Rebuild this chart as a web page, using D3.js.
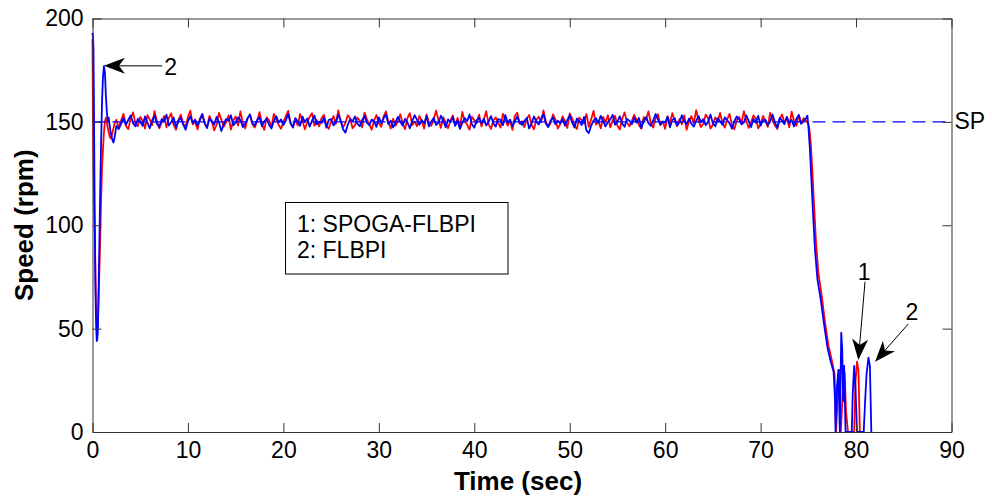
<!DOCTYPE html>
<html>
<head>
<meta charset="utf-8">
<script src="https://cdn.jsdelivr.net/npm/d3@7"></script>
<style>
  html, body { margin: 0; padding: 0; background: #fff; }
  svg { display: block; }
  text { font-family: "Liberation Sans", Arial, sans-serif; }
</style>
</head>
<body>
<svg id="chart" width="992" height="497"></svg>
<script>
// ---------------- DATA ----------------
const xTicks = [0, 10, 20, 30, 40, 50, 60, 70, 80, 90];
const yTicks = [0, 50, 100, 150, 200];
const setPoint = 150;
const legendLines = ["1: SPOGA-FLBPI", "2: FLBPI"];

// start-up transient (time in sec)
const startTime = [0, 0.05, 0.1, 0.15, 0.2, 0.25, 0.3, 0.35, 0.4, 0.45, 0.5, 0.55, 0.6, 0.7, 0.8, 0.9, 1.0, 1.1, 1.2, 1.3, 1.4, 1.5, 1.6, 1.7, 1.8, 1.9, 2.0, 2.1, 2.2, 2.3, 2.4, 2.5];
const redStart  = [190, 150, 128, 115, 104, 95, 80, 65, 55, 50, 49, 52, 58, 75, 92, 112, 128, 137, 145, 150, 152, 150, 147, 145, 143, 142, 143, 145, 147, 149, 150, 151];
const blueStart = [193, 191, 186, 160, 125, 95, 72, 58, 49, 44, 45, 48, 58, 85, 115, 140, 160, 172, 177, 174, 163, 155, 150, 152, 148, 145, 143, 141, 140, 142, 145, 148];

// steady state samples, one every 0.25 s from 2.75 s to 74.75 s
const steadyStart = 2.75, steadyStep = 0.25;
const redSteady = [
147.2,150.8,153.9,148.1,146.5,151.7,154.6,149.3,147.9,152.4,150.6,146.8,153.2,151.1,148.4,155.2,150.3,
146.9,149.7,152.8,147.4,151.9,154.1,148.6,146.2,150.9,153.5,149.1,147.7,152.3,155.4,148.8,150.2,146.4,
151.6,153.7,149.5,147.1,152.9,150.4,145.9,148.7,154.3,151.2,147.6,149.9,153.1,146.3,150.7,152.6,148.2,
155.1,149.4,146.8,151.8,153.6,148.9,147.3,150.5,154.7,149.2,146.1,152.2,150.8,147.5,153.9,151.3,148.6,
146.7,150.1,152.7,155.3,149.6,147.2,151.4,148.3,153.8,150.6,146.4,149.8,152.5,154.2,148.1,150.9,147.8,
151.9,153.4,148.7,146.6,150.3,152.8,149.1,155.6,150.2,147.4,149.5,153.2,151.7,146.9,148.4,152.1,150.6,
147.3,154.5,151.2,148.8,146.2,150.7,153.3,149.4,147.6,152.6,155.1,149.9,146.8,151.5,148.2,150.4,153.7,
149.2,146.5,151.8,154.2,148.5,150.1,147.9,152.9,150.3,146.7,153.6,149.7,148.1,151.4,155.4,150.8,147.1,
152.3,149.6,146.9,150.5,153.1,148.4,151.9,147.4,154.8,150.2,148.7,146.3,152.4,150.9,149.3,153.5,147.8,
151.1,155.2,148.9,146.6,150.7,152.2,149.5,147.2,153.9,151.4,148.2,150.6,146.1,152.8,154.4,149.1,150.3,
147.5,151.6,153.3,148.6,146.4,150.9,152.5,149.8,155.5,150.1,147.7,149.3,153.6,151.2,146.8,148.9,152.7,
150.4,147.1,154.1,151.7,148.3,146.5,152.1,150.8,149.2,153.8,147.6,151.3,155.3,148.7,150.2,146.9,152.4,
149.7,153.2,147.4,150.6,152.9,148.1,146.3,151.5,154.6,149.9,147.8,150.4,153.4,151.1,148.5,146.7,152.3,
150.9,155.1,149.2,147.3,151.8,153.7,148.4,150.2,146.6,152.6,149.6,154.2,150.7,147.9,151.4,148.8,153.1,
146.2,150.3,152.8,149.4,155.7,150.6,147.5,149.1,153.5,151.9,146.8,148.6,152.2,150.1,154.3,149.7,147.2,
151.3,153.9,148.2,146.4,150.8,152.4,149.3,155.2,150.5,147.1,149.8,153.1,151.6,146.9,148.7,152.9,150.2,
147.6,154.4,150.9,148.3,146.6,151.2,153.6,149.5,152.1,147.3,155.0,150.4,148.1,153.3,149.2,151.8,150.6
];
const blueSteady = [
146.5,149.2,151.8,148.6,150.9,153.1,149.4,147.8,151.5,150.2,148.1,152.6,149.7,146.9,150.8,152.9,149.1,
147.6,151.3,150.4,153.5,148.2,149.9,152.1,147.3,150.6,151.9,148.8,146.2,150.3,152.7,149.5,151.1,148.4,
150.7,153.8,149.3,147.1,151.6,150.1,148.7,152.4,149.8,145.6,148.9,151.4,150.5,153.2,148.3,149.6,152.2,
150.9,147.5,149.1,151.7,153.6,149.4,148.2,150.8,152.3,147.9,150.2,151.5,148.6,146.8,150.4,152.8,149.7,
151.2,148.5,150.6,153.9,149.2,147.4,151.8,150.3,148.1,152.5,149.9,151.6,147.7,150.5,153.1,148.8,150.1,
149.5,152.1,147.2,150.9,151.4,148.3,149.8,153.4,150.7,146.4,144.8,148.6,151.3,150.2,152.6,149.1,147.9,
150.8,152.9,149.6,148.4,151.1,150.3,147.6,152.2,149.4,151.7,153.5,148.9,150.6,147.3,149.9,152.4,150.1,
148.2,151.5,149.7,146.9,150.4,153.2,151.1,148.6,150.9,149.3,152.7,147.8,150.2,151.9,148.5,149.6,153.0,
150.5,147.4,151.2,149.8,152.3,148.1,150.7,146.6,149.5,151.8,150.3,153.6,148.9,147.2,150.6,152.1,149.4,
151.6,148.3,150.1,152.8,149.2,147.7,151.4,150.9,148.4,153.3,149.6,151.1,147.9,150.3,152.5,149.8,148.6,
150.4,151.9,146.8,149.3,152.6,150.2,148.7,151.5,153.7,149.1,147.5,150.8,152.2,148.9,150.6,149.4,151.3,
148.1,150.9,153.1,149.7,147.3,151.6,150.4,148.5,152.4,145.9,144.6,148.2,150.7,151.8,149.5,152.9,150.3,
147.8,149.9,151.2,153.4,148.6,150.1,152.7,149.2,147.6,151.4,150.6,148.8,152.1,149.7,151.9,147.1,150.5,
152.3,149.4,148.1,150.8,153.8,151.1,148.7,150.2,149.6,152.5,147.4,150.9,151.7,148.3,149.8,153.2,150.4,
148.9,151.6,149.1,147.7,150.6,152.8,149.9,151.3,148.4,150.1,153.5,149.2,147.9,151.8,150.3,148.6,152.2,
150.7,149.3,146.7,150.4,152.6,151.2,148.8,149.7,153.1,150.5,147.5,151.4,149.6,152.9,148.2,150.8,151.1,
148.5,150.2,153.6,149.8,147.2,151.9,150.6,148.9,152.4,149.4,150.9,147.8,151.5,153.3,149.1,150.3,151.7
];

// speed drop after 75 s
const redEndTime  = [75.0, 75.1, 75.25, 75.4, 75.6, 75.8, 76.05, 76.4, 76.75, 77.1, 77.45, 77.75, 77.9, 78.05, 78.25, 78.4, 78.6, 78.8, 78.95, 79.15, 79.8, 79.95, 80.1, 80.25, 80.4];
const redEnd      = [149, 147, 140, 128, 110, 92, 77, 66, 53, 42, 35, 28, 0, 14, 30, 0, 18, 29, 10, 0, 0, 25, 34, 30, 0];
const blueEndTime = [74.9, 75.0, 75.15, 75.3, 75.5, 75.7, 75.95, 76.3, 76.65, 77.0, 77.35, 77.65, 77.8, 77.85, 78.0, 78.15, 78.3, 78.45, 78.55, 78.65, 78.75, 78.9, 79.0, 79.55, 79.65, 79.8, 79.95, 80.1, 80.8, 80.95, 81.1, 81.3, 81.45, 81.6];
const blueEnd     = [153, 148, 138, 124, 105, 88, 74, 64, 52, 41, 34, 29, 15, 0, 22, 30, 0, 48, 40, 15, 32, 0, 0, 0, 18, 32, 20, 0, 0, 15, 28, 36, 32, 0];

// ---------------- CHART ----------------
const svg = d3.select("#chart");
const x = d3.scaleLinear().domain([0, 90]).range([92.5, 951.5]);
const y = d3.scaleLinear().domain([0, 200]).range([432, 18.5]);

function build(tStart, vStart, vSteady, tEnd, vEnd) {
  const pts = tStart.map((t, i) => [t, vStart[i]]);
  vSteady.forEach((v, i) => pts.push([steadyStart + i * steadyStep, v]));
  tEnd.forEach((t, i) => pts.push([t, vEnd[i]]));
  return pts;
}
const redData = build(startTime, redStart, redSteady, redEndTime, redEnd);
const blueData = build(startTime, blueStart, blueSteady, blueEndTime, blueEnd);

const line = d3.line().x(d => x(d[0])).y(d => y(d[1]));

svg.append("path").datum(redData).attr("d", line)
  .attr("fill", "none").attr("stroke", "#ff0000").attr("stroke-width", 1.8).attr("stroke-linejoin", "round");
svg.append("path").datum([[0, setPoint], [90, setPoint]]).attr("d", line)
  .attr("fill", "none").attr("stroke", "#0000ff").attr("stroke-width", 1.3).attr("stroke-dasharray", "13,7");
svg.append("path").datum(blueData).attr("d", line)
  .attr("fill", "none").attr("stroke", "#0000ff").attr("stroke-width", 1.8).attr("stroke-linejoin", "round");

// axes (MATLAB-style box, ticks inside)
const axisColor = "#333";
function styleAxis(g) {
  g.selectAll("path.domain").attr("stroke", axisColor).attr("stroke-width", 1);
  g.selectAll(".tick line").attr("stroke", axisColor).attr("stroke-width", 1);
  g.selectAll(".tick text").attr("fill", "#000")
    .style("font-family", '"Liberation Sans", Arial, sans-serif').style("font-size", "23px");
}
svg.append("g").attr("transform", `translate(0,${y(0)})`)
  .call(d3.axisBottom(x).tickValues(xTicks).tickSizeInner(-9).tickSizeOuter(0).tickPadding(10))
  .call(styleAxis);
svg.append("g").attr("transform", `translate(0,${y(200)})`)
  .call(d3.axisTop(x).tickValues(xTicks).tickSizeInner(-9).tickSizeOuter(0).tickFormat(""))
  .call(styleAxis);
svg.append("g").attr("transform", `translate(${x(0)},0)`)
  .call(d3.axisLeft(y).tickValues(yTicks).tickSizeInner(-9).tickSizeOuter(0).tickPadding(9))
  .call(styleAxis);
svg.append("g").attr("transform", `translate(${x(90)},0)`)
  .call(d3.axisRight(y).tickValues(yTicks).tickSizeInner(-9).tickSizeOuter(0).tickFormat(""))
  .call(styleAxis);

// axis titles
svg.append("text").attr("x", (x(0) + x(90)) / 2 - 4).attr("y", 490)
  .attr("text-anchor", "middle").style("font-weight", "bold").style("font-size", "26px")
  .text("Time (sec)");
svg.append("text").attr("transform", `translate(32.5,${(y(0) + y(200)) / 2})rotate(-90)`)
  .attr("text-anchor", "middle").style("font-weight", "bold").style("font-size", "26px")
  .text("Speed (rpm)");

// SP label
svg.append("text").attr("x", x(90) + 3).attr("y", y(setPoint) + 7)
  .style("font-size", "23px").text("SP");

// legend box
svg.append("rect").attr("x", 285.5).attr("y", 202.5).attr("width", 222.5).attr("height", 71.5)
  .attr("fill", "#fff").attr("stroke", "#000").attr("stroke-width", 1);
legendLines.forEach((s, i) => {
  svg.append("text").attr("x", 297).attr("y", 231.5 + i * 26.6)
    .style("font-size", "23px").text(s);
});

// annotation arrows
function arrow(t0, v0, t1, v1, label, lt, lv) {
  const x0 = x(t0), y0 = y(v0), x1 = x(t1), y1 = y(v1);
  const ang = Math.atan2(y1 - y0, x1 - x0);
  const L = 21, W = 8, N = 6;
  const ca = Math.cos(ang), sa = Math.sin(ang);
  const bx = x1 - L * ca, by = y1 - L * sa;
  const nx = x1 - (L - N) * ca, ny = y1 - (L - N) * sa;
  svg.append("line").attr("x1", x0).attr("y1", y0).attr("x2", nx).attr("y2", ny)
    .attr("stroke", "#000").attr("stroke-width", 1);
  const p = [[x1, y1], [bx - W * sa, by + W * ca], [nx, ny], [bx + W * sa, by - W * ca]];
  svg.append("path").attr("d", "M" + p.map(q => q.join(",")).join("L") + "Z").attr("fill", "#000");
  svg.append("text").attr("x", x(lt)).attr("y", y(lv)).attr("text-anchor", "middle")
    .style("font-size", "23px").text(label);
}
arrow(7.3, 177.1, 1.2, 177.1, "2", 8.2, 172.8);
arrow(80.94, 72.7, 80.24, 34.8, "1", 80.84, 73.6);
arrow(85.48, 52.3, 81.99, 34.0, "2", 85.86, 54.2);
</script>
</body>
</html>
